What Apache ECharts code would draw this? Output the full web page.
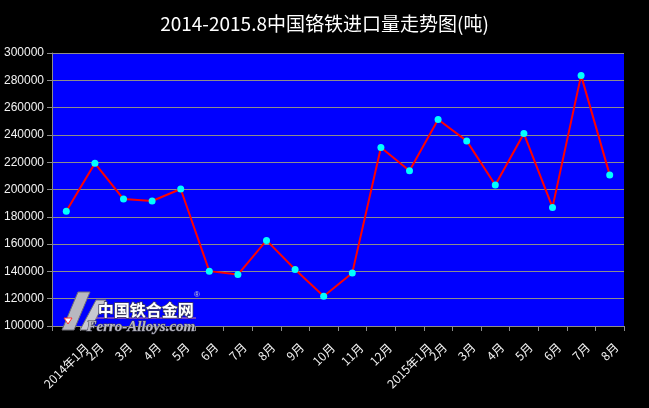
<!DOCTYPE html>
<html>
<head>
<meta charset="utf-8">
<script src="https://cdn.jsdelivr.net/npm/echarts@6/dist/echarts.min.js"></script>
<style>
html,body{margin:0;padding:0;background:#000;}
#c{width:649px;height:408px;}
</style>
</head>
<body>
<div id="c"></div>
<script>
var titleText = '2014-2015.8中国铬铁进口量走势图(吨)';
var categories = ['2014年1月','2月','3月','4月','5月','6月','7月','8月','9月','10月','11月','12月',
  '2015年1月','2月','3月','4月','5月','6月','7月','8月'];
var imports = [184000,219200,193000,191600,200400,140200,137700,162700,141400,121800,138900,230700,
  213800,251300,235600,203300,241000,186900,283600,210700];
var yMin = 100000, yMax = 300000, yStep = 20000;

var labelFont = '12px "Noto Sans CJK SC", sans-serif';
var measureCtx = document.createElement('canvas').getContext('2d');
measureCtx.font = labelFont;
// spreadsheet-style rotated labels: each label's box is centred under its category, tops aligned
var richStyles = {};
categories.forEach(function (c, i) {
  var w = measureCtx.measureText(c).width;
  var p = Math.round((w + 12) * 0.5);
  richStyles['l' + i] = {padding: [p, p, 0, 0], color: '#f2f2f2', fontSize: 12,
    fontFamily: '"Noto Sans CJK SC", sans-serif'};
});

var chart = echarts.init(document.getElementById('c'), null, {renderer:'canvas'});
chart.setOption({
  backgroundColor:'#000000',
  animation:false,
  title:{
    text:titleText, left:'center', top:9,
    textStyle:{color:'#ffffff', fontSize:19, fontWeight:'normal', fontFamily:'"Noto Sans CJK SC", sans-serif'}
  },
  grid:{left:52, right:25, top:53, bottom:82, show:true, backgroundColor:'#0000ff', borderWidth:0},
  xAxis:{
    type:'category', data:categories, boundaryGap:true,
    axisLine:{lineStyle:{color:'#8c8c8c', width:1}},
    axisTick:{show:true, alignWithLabel:false, length:5, lineStyle:{color:'#8c8c8c'}},
    axisLabel:{interval:0, rotate:45, color:'#f2f2f2', fontSize:12, margin:15,
      align:'center', verticalAlign:'middle',
      fontFamily:'"Noto Sans CJK SC", sans-serif',
      formatter:function (v, i) { return '{l' + i + '|' + v + '}'; },
      rich: richStyles},
    splitLine:{show:false}
  },
  yAxis:{
    type:'value', min:yMin, max:yMax, interval:yStep,
    axisLine:{show:true, lineStyle:{color:'#8c8c8c', width:1}},
    axisTick:{show:true, length:5, lineStyle:{color:'#8c8c8c'}},
    axisLabel:{color:'#f2f2f2', fontSize:12, margin:8, fontFamily:'"Liberation Sans", sans-serif',
      formatter:function (v) { return String(v); }},
    splitLine:{show:true, lineStyle:{color:'#8c8c8c', width:1}}
  },
  graphic:[
    {type:'polygon', z:99, shape:{points:[[62,330],[78,292],[90,292],[74,330]]},
      style:{fill:'#b8b8c0', stroke:'#707078', lineWidth:1}},
    {type:'polygon', z:99, shape:{points:[[80,330],[96,300],[106,300],[90,330]]},
      style:{fill:'#c8c8d0', stroke:'#707078', lineWidth:1}},
    {type:'polygon', z:100, shape:{points:[[64,318],[72,318],[68,324]]},
      style:{fill:'#ffffff', stroke:'#ff3030', lineWidth:1}},
    {type:'line', z:100, shape:{x1:96, y1:318, x2:196, y2:318},
      style:{stroke:'#e08080', lineWidth:1}},
    {type:'text', left:97, top:301, z:100,
      style:{text:'中国铁合金网', fill:'#ffffff', stroke:'#404060', lineWidth:1.5,
        font:'bold 16px "Noto Sans CJK SC", sans-serif'}},
    {type:'text', left:194, top:291, z:100,
      style:{text:'®', fill:'#d0d0d0', font:'8px sans-serif'}},
    {type:'text', left:86, top:319, z:100,
      style:{text:'Ferro-Alloys.com', fill:'#b8b8c0', stroke:'#404050', lineWidth:1,
        font:'italic bold 15px "Liberation Serif", serif'}}
  ],
  series:[{
    type:'line', data:imports,
    lineStyle:{color:'#ff0000', width:2},
    itemStyle:{color:'#00ffff', borderWidth:0},
    symbol:'circle', symbolSize:7, showSymbol:true
  }]
});
</script>
</body>
</html>
